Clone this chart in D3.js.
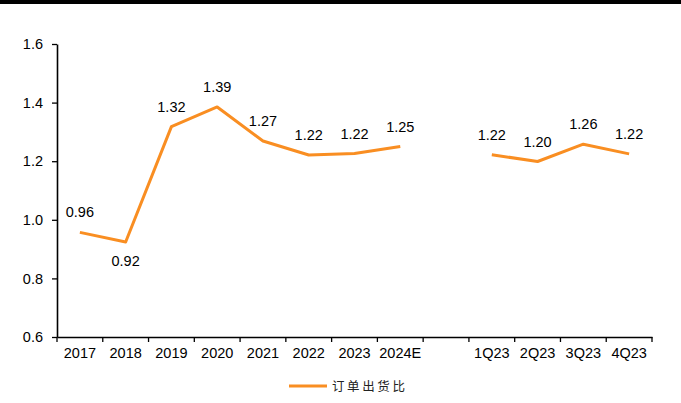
<!DOCTYPE html>
<html>
<head>
<meta charset="utf-8">
<script src="https://cdn.jsdelivr.net/npm/d3@7"></script>
<style>
  html, body { margin: 0; padding: 0; background: #fff; }
  svg { display: block; font-family: "Liberation Sans", Arial, sans-serif; }
  .axis path, .axis line { stroke: #000; }
  .axis text { fill: #000; font-size: 14.5px; }
</style>
</head>
<body>
<div id="chart"></div>
<script>
// 订单出货比：年度 + 季度（中间空一格）
const categories = ["2017", "2018", "2019", "2020", "2021", "2022", "2023", "2024E", "gap", "1Q23", "2Q23", "3Q23", "4Q23"];
const ratio      = [0.957, 0.924, 1.318, 1.385, 1.269, 1.221, 1.226, 1.250, null, 1.222, 1.199, 1.258, 1.225];
const ratioLabel = ["0.96", "0.92", "1.32", "1.39", "1.27", "1.22", "1.22", "1.25", "", "1.22", "1.20", "1.26", "1.22"];
const yTicks     = [0.6, 0.8, 1.0, 1.2, 1.4, 1.6];
const seriesName = "订单出货比";

const W = 681, H = 403;
const margin = { top: 44, right: 29, bottom: 66, left: 57 };
const orange = "#F98E22";

const svg = d3.select("#chart").append("svg")
  .attr("width", W).attr("height", H);

// 顶部黑条
svg.append("rect").attr("x", 0).attr("y", 0).attr("width", W).attr("height", 4).attr("fill", "#000");

const x = d3.scaleBand().domain(categories).range([margin.left, W - margin.right]).padding(0);
const y = d3.scaleLinear().domain([0.6, 1.6]).range([H - margin.bottom, margin.top]);

// y 轴
svg.append("g").attr("class", "axis")
  .attr("transform", `translate(${margin.left},0)`)
  .call(d3.axisLeft(y).tickValues(yTicks).tickSize(5).tickSizeOuter(0).tickPadding(9)
    .tickFormat(d3.format(".1f")))
  .call(g => g.select(".domain").attr("stroke-width", 1.6))
  .call(g => g.selectAll(".tick line").attr("stroke-width", 1.3));

// x 轴：标签居中，刻度线在分类边界
const xAxis = svg.append("g").attr("class", "axis")
  .attr("transform", `translate(0,${y(0.6)})`)
  .call(d3.axisBottom(x).tickSize(0).tickPadding(11)
    .tickFormat(d => d === "gap" ? "" : d));
xAxis.select(".domain").attr("stroke-width", 1.6);

const bounds = categories.map(c => x(c)).concat([x.range()[1]]);
xAxis.selectAll(".bound").data(bounds).join("line")
  .attr("class", "bound")
  .attr("x1", d => d).attr("x2", d => d)
  .attr("y1", 0).attr("y2", 5)
  .attr("stroke", "#000").attr("stroke-width", 1.3);

// 折线（季度与年度之间断开）
const pts = categories.map((c, i) => ({ c, v: ratio[i], t: ratioLabel[i] }));
const line = d3.line()
  .defined(d => d.v != null)
  .x(d => x(d.c) + x.bandwidth() / 2)
  .y(d => y(d.v));

svg.append("path").datum(pts)
  .attr("d", line)
  .attr("fill", "none")
  .attr("stroke", orange)
  .attr("stroke-width", 3)
  .attr("stroke-linejoin", "round");

// 数据标签
const below = new Set(["2018"]);
svg.append("g").selectAll("text")
  .data(pts.filter(d => d.v != null)).join("text")
  .attr("x", d => x(d.c) + x.bandwidth() / 2)
  .attr("y", d => y(d.v) + (below.has(d.c) ? 19 : -20))
  .attr("dy", "0.35em")
  .attr("text-anchor", "middle")
  .attr("font-size", "14.5px")
  .attr("fill", "#000")
  .text(d => d.t);

// 图例
const lg = svg.append("g").attr("transform", "translate(289,386)");
lg.append("line").attr("x1", 0).attr("x2", 38).attr("y1", 0).attr("y2", 0)
  .attr("stroke", orange).attr("stroke-width", 3);
lg.append("text").attr("x", 43).attr("y", 0).attr("dy", "0.36em")
  .attr("font-family", "'Noto Sans CJK SC', sans-serif")
  .attr("font-size", "12.5px")
  .attr("letter-spacing", "2.6px")
  .attr("fill", "#222")
  .text(seriesName);
</script>
</body>
</html>
